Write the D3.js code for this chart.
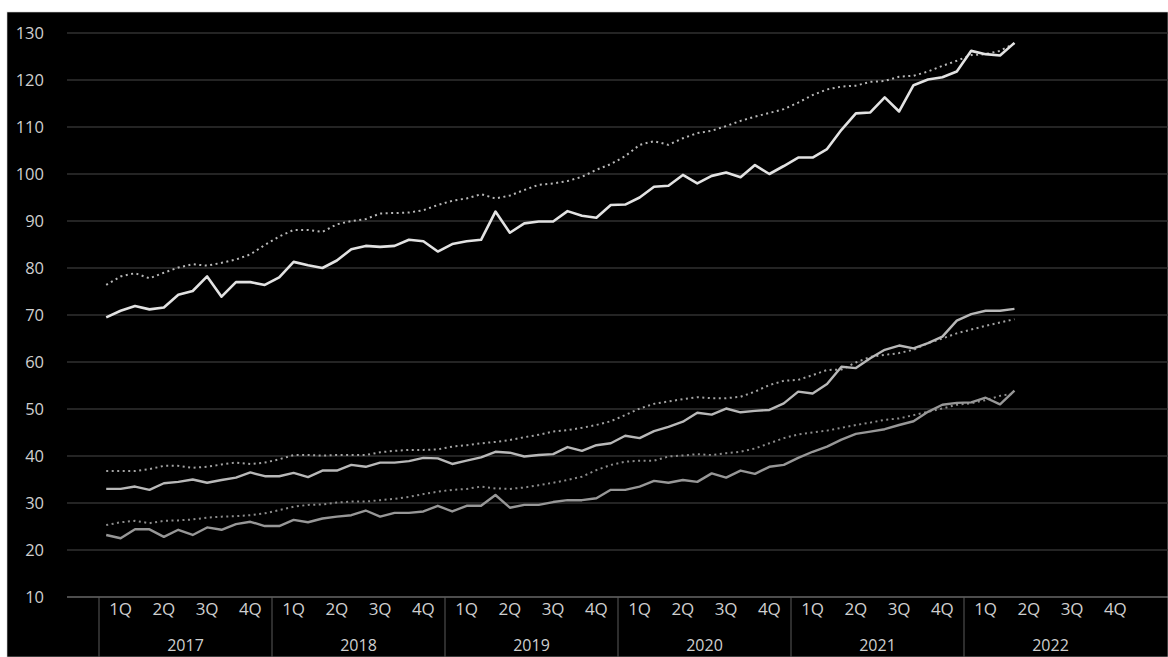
<!DOCTYPE html>
<html>
<head>
<meta charset="utf-8">
<script src="https://cdn.jsdelivr.net/npm/d3@7"></script>
<style>
	html, body { margin: 0; padding: 0; background: #fff; }
	svg { display: block; }
	.tick text { font-family: "Open Sans", "Noto Sans", sans-serif; }
</style>
</head>
<body>
<div id="chart"></div>
<script>

// categories
var years = ["2017", "2018", "2019", "2020", "2021", "2022"];
var quarters = ["1Q", "2Q", "3Q", "4Q"];
var yTicks = [10, 20, 30, 40, 50, 60, 70, 80, 90, 100, 110, 120, 130];

// monthly values, Jan 2017 .. Apr 2022 (64 months)
var upperActual = [69.5, 70.9, 71.9, 71.2, 71.6, 74.3, 75.1, 78.2, 73.9, 77.0, 77.0, 76.4,
	78.0, 81.3, 80.6, 80.0, 81.6, 84.0, 84.7, 84.5, 84.7, 86.0, 85.7, 83.5,
	85.1, 85.7, 86.0, 92.0, 87.5, 89.5, 89.9, 89.9, 92.1, 91.1, 90.7, 93.4,
	93.5, 95.0, 97.3, 97.5, 99.8, 98.0, 99.6, 100.3, 99.3, 101.9, 100.0, 101.7,
	103.5, 103.5, 105.3, 109.4, 112.9, 113.1, 116.3, 113.3, 118.9, 120.1, 120.6, 121.8,
	126.2, 125.5, 125.2, 127.9];
var upperTrend = [76.4, 78.2, 78.9, 77.8, 79.0, 80.1, 80.8, 80.5, 81.1, 81.8, 82.9, 84.9,
	86.7, 88.1, 88.1, 87.7, 89.3, 90.0, 90.4, 91.6, 91.7, 91.8, 92.3, 93.4,
	94.3, 94.8, 95.7, 94.8, 95.4, 96.6, 97.7, 98.0, 98.5, 99.4, 100.9, 102.1,
	103.8, 106.2, 107.0, 106.2, 107.6, 108.7, 109.2, 110.2, 111.3, 112.2, 113.0, 113.8,
	115.2, 116.8, 118.0, 118.6, 118.8, 119.6, 119.8, 120.7, 120.9, 121.8, 123.0, 124.1,
	125.3, 125.5, 126.2, 127.8];
var middleActual = [33.0, 33.0, 33.5, 32.8, 34.2, 34.5, 35.0, 34.3, 34.9, 35.4, 36.5, 35.7,
	35.7, 36.4, 35.5, 36.9, 36.9, 38.1, 37.7, 38.6, 38.6, 38.9, 39.6, 39.5,
	38.3, 39.0, 39.7, 40.9, 40.7, 39.9, 40.2, 40.4, 41.9, 41.1, 42.3, 42.7,
	44.3, 43.8, 45.3, 46.2, 47.3, 49.2, 48.8, 50.1, 49.3, 49.6, 49.8, 51.2,
	53.7, 53.3, 55.3, 59.0, 58.7, 60.8, 62.6, 63.5, 62.9, 64.0, 65.4, 68.8,
	70.2, 70.9, 70.9, 71.3];
var middleTrend = [36.8, 36.8, 36.8, 37.2, 37.9, 37.9, 37.5, 37.7, 38.2, 38.6, 38.3, 38.6,
	39.3, 40.2, 40.2, 40.1, 40.2, 40.2, 40.2, 40.8, 41.1, 41.3, 41.3, 41.4,
	42.0, 42.3, 42.7, 43.0, 43.4, 44.0, 44.5, 45.2, 45.5, 46.0, 46.6, 47.4,
	48.7, 50.1, 51.1, 51.6, 52.1, 52.5, 52.3, 52.3, 52.6, 53.7, 55.1, 56.0,
	56.2, 57.2, 58.3, 58.4, 59.9, 61.1, 61.5, 61.9, 62.6, 64.0, 65.0, 66.1,
	66.9, 67.7, 68.4, 69.1];
var lowerActual = [23.2, 22.5, 24.4, 24.4, 22.8, 24.3, 23.2, 24.8, 24.3, 25.5, 26.0, 25.1,
	25.1, 26.4, 25.9, 26.7, 27.1, 27.4, 28.4, 27.1, 27.9, 27.9, 28.2, 29.4,
	28.2, 29.4, 29.4, 31.7, 29.0, 29.6, 29.6, 30.2, 30.6, 30.6, 31.0, 32.8,
	32.8, 33.5, 34.7, 34.3, 34.9, 34.5, 36.3, 35.4, 36.9, 36.2, 37.7, 38.1,
	39.6, 40.9, 42.0, 43.5, 44.7, 45.2, 45.7, 46.6, 47.4, 49.4, 50.9, 51.3,
	51.4, 52.4, 51.0, 53.9];
var lowerTrend = [25.3, 25.9, 26.2, 25.7, 26.2, 26.3, 26.5, 26.9, 27.1, 27.2, 27.4, 27.8,
	28.5, 29.2, 29.6, 29.7, 30.1, 30.3, 30.3, 30.6, 30.9, 31.3, 31.9, 32.4,
	32.8, 33.0, 33.5, 33.1, 33.0, 33.3, 33.8, 34.3, 34.9, 35.6, 37.0, 38.1,
	38.8, 39.0, 39.0, 39.9, 40.1, 40.4, 40.2, 40.6, 40.9, 41.6, 42.7, 43.8,
	44.6, 45.0, 45.4, 46.0, 46.6, 47.1, 47.7, 48.0, 48.7, 49.4, 50.1, 50.9,
	51.2, 51.9, 52.8, 53.3];

var seriesList = [
	{values: lowerTrend,   color: "#8c8c8c", width: 2,   dash: "2,3.5"},
	{values: lowerActual,  color: "#979797", width: 2.4, dash: null},
	{values: middleTrend,  color: "#a3a3a3", width: 2,   dash: "2,3.5"},
	{values: middleActual, color: "#b8b8b8", width: 2.4, dash: null},
	{values: upperTrend,   color: "#b8b8b8", width: 2,   dash: "2,3.5"},
	{values: upperActual,  color: "#e2e2e2", width: 2.6, dash: null}
];

// canvas
var W = 1168, H = 657;
var frame = {left: 7, top: 12};
var plot = {left: 99, right: 1137, top: 33, bottom: 597, gridLeft: 67};
var labelFont = "'Open Sans', 'Noto Sans', sans-serif";

var svg = d3.select("#chart").append("svg")
	.attr("width", W)
	.attr("height", H);

svg.append("rect")
	.attr("x", frame.left).attr("y", frame.top)
	.attr("width", W - frame.left).attr("height", H - frame.top)
	.attr("fill", "#000")
	.attr("stroke", "#cfcfcf")
	.attr("stroke-width", 0.6);

// scales
var monthIdx = d3.range(years.length * 12);
var xMonth = d3.scaleBand().domain(monthIdx).range([plot.left, plot.right]);
var xQuarter = d3.scaleBand().domain(d3.range(years.length * 4)).range([plot.left, plot.right]);
var xYear = d3.scaleBand().domain(years).range([plot.left, plot.right]);
var yScale = d3.scaleLinear().domain([10, 130]).range([plot.bottom, plot.top]);

// grid lines
svg.append("g")
	.selectAll("line")
	.data(yTicks.filter(function(d) { return d > 10; }))
	.enter().append("line")
	.attr("x1", plot.gridLeft).attr("x2", W)
	.attr("y1", function(d) { return yScale(d); })
	.attr("y2", function(d) { return yScale(d); })
	.attr("stroke", "#303030")
	.attr("stroke-width", 1.4);

// y axis labels
var yAxis = d3.axisLeft(yScale).tickValues(yTicks).tickSize(0).tickPadding(0);
var yg = svg.append("g")
	.attr("transform", "translate(44,0)")
	.call(yAxis);
yg.select(".domain").remove();
yg.selectAll("text")
	.attr("fill", "#cfcfcf")
	.style("font-size", "16.5px");

// baseline
svg.append("line")
	.attr("x1", plot.gridLeft).attr("x2", W)
	.attr("y1", plot.bottom).attr("y2", plot.bottom)
	.attr("stroke", "#9a9a9a")
	.attr("stroke-width", 1.2);

// year separators
svg.append("g")
	.selectAll("line")
	.data(years)
	.enter().append("line")
	.attr("x1", function(d) { return xYear(d); })
	.attr("x2", function(d) { return xYear(d); })
	.attr("y1", plot.bottom).attr("y2", H)
	.attr("stroke", "#5a5a5a")
	.attr("stroke-width", 1);

// quarter labels
svg.append("g")
	.selectAll("text")
	.data(xQuarter.domain())
	.enter().append("text")
	.attr("x", function(d) { return xQuarter(d) + xQuarter.bandwidth() / 2; })
	.attr("y", 615)
	.attr("text-anchor", "middle")
	.attr("fill", "#cfcfcf")
	.style("font-family", labelFont)
	.style("font-size", "17px")
	.text(function(d) { return quarters[d % 4]; });

// year labels
svg.append("g")
	.selectAll("text")
	.data(years)
	.enter().append("text")
	.attr("x", function(d) { return xYear(d) + xYear.bandwidth() / 2; })
	.attr("y", 651)
	.attr("text-anchor", "middle")
	.attr("fill", "#cfcfcf")
	.style("font-family", labelFont)
	.style("font-size", "16px")
	.text(function(d) { return d; });

// lines
var line = d3.line()
	.x(function(d, i) { return xMonth(i) + xMonth.bandwidth() / 2; })
	.y(function(d) { return yScale(d); });

seriesList.forEach(function(s) {
	svg.append("path")
		.datum(s.values)
		.attr("d", line)
		.attr("fill", "none")
		.attr("stroke", s.color)
		.attr("stroke-width", s.width)
		.attr("stroke-linejoin", "round")
		.attr("stroke-dasharray", s.dash);
});

</script>
</body>
</html>
